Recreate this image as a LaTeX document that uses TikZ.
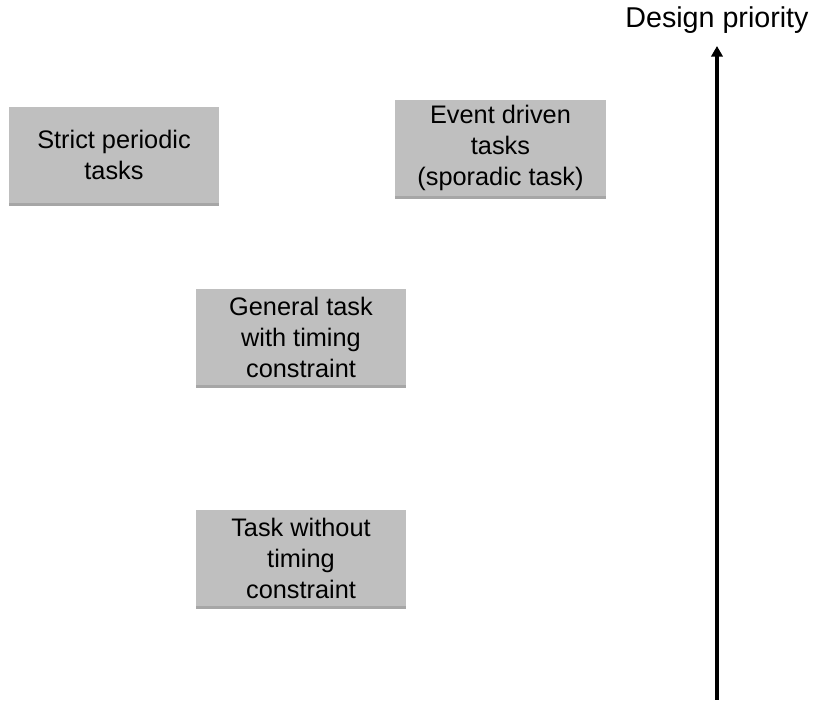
\documentclass[tikz,border=0pt]{standalone}
\usepackage{fontspec}
\setmainfont{Liberation Sans}
\usetikzlibrary{arrows.meta,shadows}
\begin{document}
\begin{tikzpicture}[x=0.75pt,y=0.75pt,
  taskbox/.style={fill=gray!50,minimum width=158pt,minimum height=72pt,align=center,
    font=\fontsize{19}{23.5}\selectfont,inner sep=1pt,
    drop shadow={shadow xshift=0pt,shadow yshift=-2pt,opacity=0.35,fill=black}}]
\useasboundingbox (0,0) rectangle (819,707);

% Tasks
\node[taskbox] (strict) at (114,552) {Strict periodic\\tasks};
\node[taskbox] (event) at (500.5,559) {Event driven\\tasks\\(sporadic task)};
\node[taskbox] (general) at (301,369.5) {General task\\with timing\\constraint};
\node[taskbox] (notiming) at (301,148.5) {Task without\\timing\\constraint};

% Priority axis
\coordinate (low) at (717,7);
\coordinate (high) at (717,661);
\draw[line width=2.3pt,-{Triangle[length=8pt,width=8.5pt]}] (low) -- (high);
\node[font=\fontsize{21.5}{25}\selectfont] (prio) at (717,687) {Design priority};
\end{tikzpicture}
\end{document}
